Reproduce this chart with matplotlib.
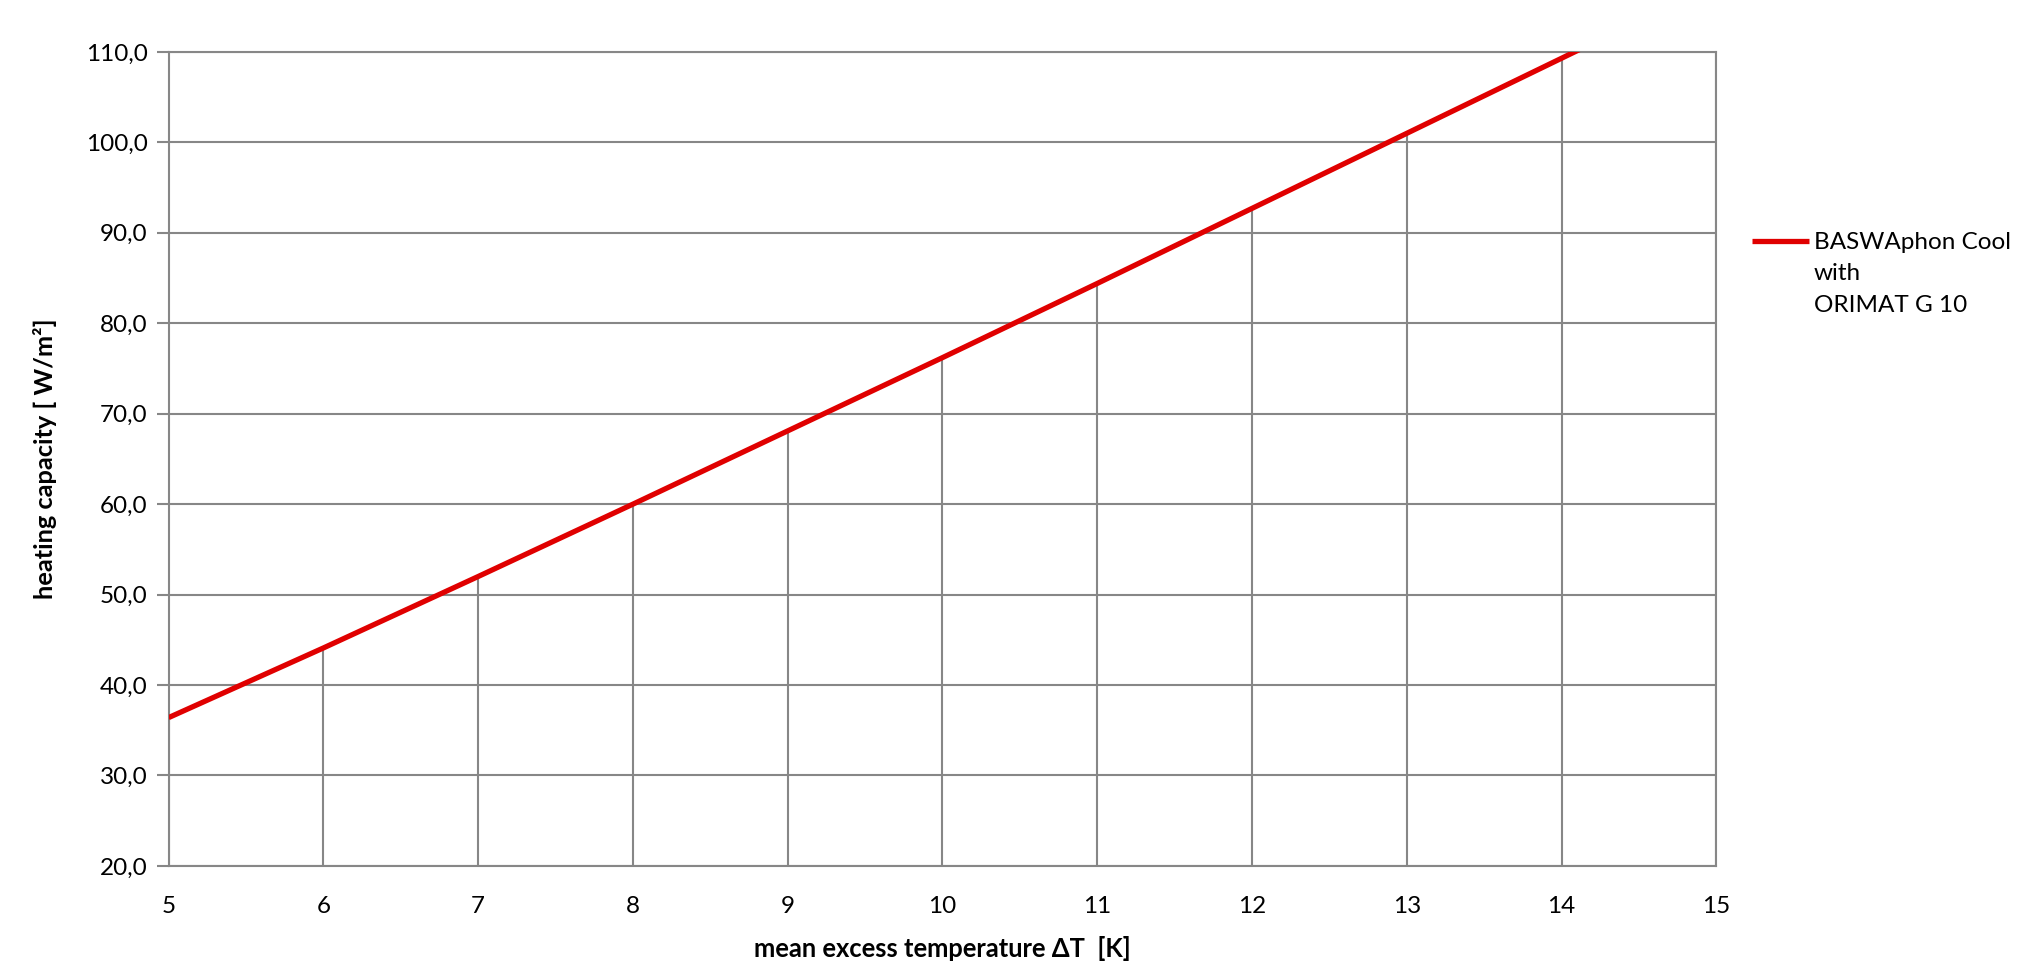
import matplotlib
matplotlib.use("Agg")
import matplotlib.pyplot as plt
from matplotlib.lines import Line2D

plt.rcParams['font.family'] = ['Lato', 'DejaVu Sans']

# mean excess temperature [K] and heating capacity [W/m2]
dT = [5, 6, 7, 8, 9, 10, 11, 12, 13, 14, 15]
q = [36.4, 44.1, 52.0, 60.0, 68.1, 76.2, 84.4, 92.7, 101.0, 109.3, 117.6]
series_lines = ["BASWAphon Cool", "with", "ORIMAT G 10"]

xticks = list(range(5, 16))
yticks = list(range(20, 111, 10))

grey = '#878787'
red = '#E00000'

fig = plt.figure(figsize=(20.34, 9.8), dpi=100)
ax = fig.add_axes([0.0829, 0.1164, 0.7609, 0.8306])

# drop lines from each point down to the x axis
ax.vlines(dT, 20, q, colors=grey, linewidth=1.5, zorder=1)
line, = ax.plot(dT, q, color=red, linewidth=3.8, zorder=3,
                solid_capstyle='butt')

ax.set_xlim(5, 15)
ax.set_ylim(20, 110)
ax.set_xticks(xticks)
ax.set_yticks(yticks)
ax.set_yticklabels([f"{v:.1f}".replace('.', ',') for v in yticks])
ax.yaxis.grid(True, color=grey, linewidth=1.5)
ax.set_axisbelow(True)

for s in ax.spines.values():
    s.set_color(grey)
    s.set_linewidth(1.5)

ax.tick_params(axis='y', length=9, width=1.5, color=grey, labelsize=17.5, pad=6)
ax.tick_params(axis='x', length=0, labelsize=17.5, pad=21.5)

ax.set_xlabel("mean excess temperature \u0394T  [K]", fontsize=18.4,
              fontweight='bold', labelpad=14)
ax.set_ylabel("heating capacity [ W/m\u00b2]", fontsize=18.3,
              fontweight='bold', labelpad=21)

# legend: handle sits on the first line of the series name
blank = Line2D([], [], color='none')
handles = [line, blank, blank]
ax.legend(handles, series_lines, loc='upper left',
          bbox_to_anchor=(0.8614, 0.763), bbox_transform=fig.transFigure,
          frameon=False, fontsize=17.5, handlelength=2.35, handletextpad=0.2,
          labelspacing=0.42, borderpad=0, borderaxespad=0)

fig.savefig("out.png", dpi=100)
